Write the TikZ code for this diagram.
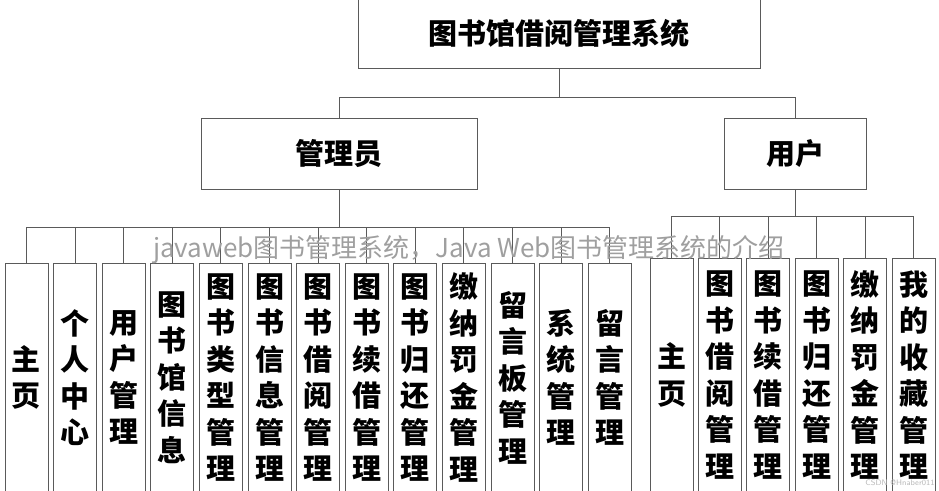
\documentclass[tikz,border=0pt]{standalone}
\usepackage{tikz}
\usetikzlibrary{positioning}
\usepackage{fontspec}
\newfontfamily\cjk{Noto Sans CJK SC}
\usepackage{xcolor}
\definecolor{linegray}{RGB}{90,90,90}
\pgfkeys{tikz/headbox/.style={draw=linegray,line width=1pt,inner sep=0pt,outer sep=0pt,font=\cjk\bfseries\fontsize{29}{34}\selectfont}}
\pgfkeys{tikz/leafbox/.style={draw=linegray,line width=1pt,anchor=north,minimum width=43pt,minimum height=229pt,text width=43pt,inner sep=0pt,outer sep=0pt,align=center,font=\cjk\bfseries\fontsize{29}{36.5}\selectfont}}
\pgfkeys{tikz/link/.style={draw=linegray,line width=1pt}}
\pgfkeys{tikz/wmark/.style={inner sep=0pt,text=gray!75,font=\cjk\fontsize{26}{26}\selectfont}}

\begin{document}
\begin{tikzpicture}[x=1pt,y=-1pt]
	\useasboundingbox (0,0) rectangle (939,490);

	\node[headbox,minimum width=402pt,minimum height=70pt] (lms) at (559,33) {图书馆借阅管理系统};
	\node[headbox,minimum width=276pt,minimum height=71pt] (admin) at (339,153.5) {管理员};
	\node[headbox,minimum width=142pt,minimum height=71pt] (user) at (795,153.5) {用户};

	% admin modules
	\node[leafbox] (a1) at (26.5,263) {主\\页};
	\node[leafbox,right=5.6pt of a1] (a2) {个\\人\\中\\心};
	\node[leafbox,right=5.6pt of a2] (a3) {用\\户\\管\\理};
	\node[leafbox,right=5.6pt of a3] (a4) {图\\书\\馆\\信\\息};
	\node[leafbox,right=5.6pt of a4] (a5) {图\\书\\类\\型\\管\\理};
	\node[leafbox,right=5.6pt of a5] (a6) {图\\书\\信\\息\\管\\理};
	\node[leafbox,right=5.6pt of a6] (a7) {图\\书\\借\\阅\\管\\理};
	\node[leafbox,right=5.6pt of a7] (a8) {图\\书\\续\\借\\管\\理};
	\node[leafbox,right=5.6pt of a8] (a9) {图\\书\\归\\还\\管\\理};
	\node[leafbox,right=5.6pt of a9] (a10) {缴\\纳\\罚\\金\\管\\理};
	\node[leafbox,right=5.6pt of a10] (a11) {留\\言\\板\\管\\理};
	\node[leafbox,right=5.6pt of a11] (a12) {系\\统\\管\\理};
	\node[leafbox,right=5.6pt of a12] (a13) {留\\言\\管\\理};

	% user modules
	\node[leafbox,minimum height=234pt] (u1) at (671.5,258) {主\\页};
	\node[leafbox,minimum height=234pt,right=5.4pt of u1] (u2) {图\\书\\借\\阅\\管\\理};
	\node[leafbox,minimum height=234pt,right=5.4pt of u2] (u3) {图\\书\\续\\借\\管\\理};
	\node[leafbox,minimum height=234pt,right=5.4pt of u3] (u4) {图\\书\\归\\还\\管\\理};
	\node[leafbox,minimum height=234pt,right=5.4pt of u4] (u5) {缴\\纳\\罚\\金\\管\\理};
	\node[leafbox,minimum height=234pt,right=5.4pt of u5] (u6) {我\\的\\收\\藏\\管\\理};

	\coordinate (root bus) at (559,97.5);
	\coordinate (admin bus) at (339,227.5);
	\coordinate (user bus) at (795,216.5);

	\draw[link] (lms.south) -- (root bus) -| (admin.north);
	\draw[link] (root bus) -| (user.north);

	\draw[link] (admin.south) -- (admin bus);
	\draw[link] (admin bus) -| (a1.north);
	\draw[link] (admin bus) -| (a2.north);
	\draw[link] (admin bus) -| (a3.north);
	\draw[link] (admin bus) -| (a4.north);
	\draw[link] (admin bus) -| (a5.north);
	\draw[link] (admin bus) -| (a6.north);
	\draw[link] (admin bus) -| (a7.north);
	\draw[link] (admin bus) -| (a8.north);
	\draw[link] (admin bus) -| (a9.north);
	\draw[link] (admin bus) -| (a10.north);
	\draw[link] (admin bus) -| (a11.north);
	\draw[link] (admin bus) -| (a12.north);
	\draw[link] (admin bus) -| (a13.north);

	\draw[link] (user.south) -- (user bus);
	\draw[link] (user bus) -| (u1.north);
	\draw[link] (user bus) -| (u2.north);
	\draw[link] (user bus) -| (u3.north);
	\draw[link] (user bus) -| (u4.north);
	\draw[link] (user bus) -| (u5.north);
	\draw[link] (user bus) -| (u6.north);

	\node[wmark] (wm) at (469,250) {javaweb图书管理系统，Java Web图书管理系统的介绍};
	\node[inner sep=0pt,text=gray!55,font=\fontsize{8}{8}\selectfont\sffamily] (csdn) at (900,483) {CSDN @Hnaber011};
\end{tikzpicture}
\end{document}
